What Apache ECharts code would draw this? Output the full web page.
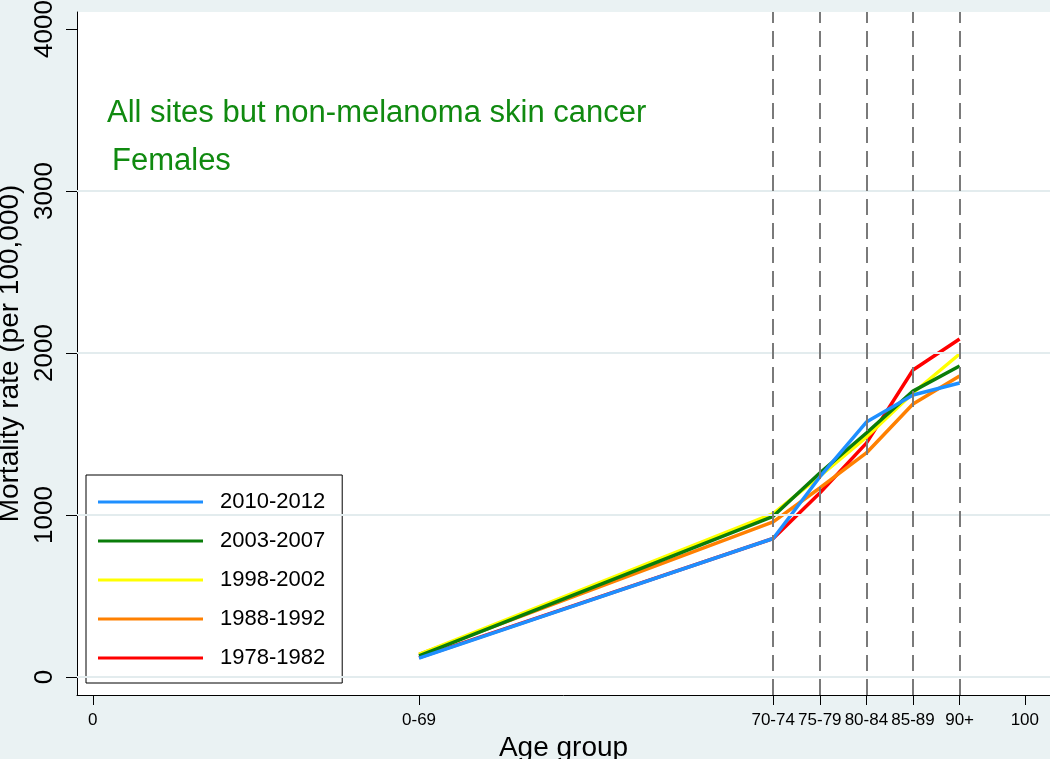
<!DOCTYPE html>
<html>
<head>
<meta charset="utf-8">
<script src="https://cdn.jsdelivr.net/npm/echarts@6/dist/echarts.min.js"></script>
<style>
html,body{margin:0;padding:0;background:#EAF2F3;}
#chart{width:1050px;height:759px;}
</style>
</head>
<body>
<div id="chart"></div>
<script>
// Age-group positions on the numeric x axis
const ageX = [35, 73, 78, 83, 88, 93];
const xTickValues = [0, 35, 73, 78, 83, 88, 93, 100];
const xTickLabels = ['0', '0-69', '70-74', '75-79', '80-84', '85-89', '90+', '100'];
const refLines = [73, 78, 83, 88, 93];
const yTickValues = [0, 1000, 2000, 3000, 4000];
const gridValues = [0, 1000, 2000, 3000];

const periods = ['2010-2012', '2003-2007', '1998-2002', '1988-1992', '1978-1982'];
const colors = ['#1E8FFF', '#0A7D0A', '#FFFF00', '#FF8000', '#FF0000'];

const v2010_2012 = [117, 855, 1235, 1574, 1741, 1815];
const v2003_2007 = [130, 992, 1259, 1506, 1765, 1920];
const v1998_2002 = [140, 1008, 1240, 1481, 1753, 1994];
const v1988_1992 = [140, 958, 1167, 1383, 1685, 1858];
const v1978_1982 = [120, 855, 1136, 1444, 1895, 2086];
const values = [v2010_2012, v2003_2007, v1998_2002, v1988_1992, v1978_1982];

const chart = echarts.init(document.getElementById('chart'));

const series = [];
// draw oldest first so 2010-2012 is on top
for (let i = periods.length - 1; i >= 0; i--) {
  series.push({
    name: periods[i],
    type: 'line',
    symbol: 'none',
    data: ageX.map((x, j) => [x, values[i][j]]),
    lineStyle: { color: colors[i], width: 3.5 },
    itemStyle: { color: colors[i] },
    z: 3,
    animation: false
  });
}
// grid lines and reference dashed lines
series.push({
  type: 'line',
  data: [],
  silent: true,
  z: 1,
  markLine: {
    silent: true,
    symbol: 'none',
    animation: false,
    label: { show: false },
    lineStyle: { color: '#E3ECEE', width: 2, type: 'solid' },
    data: gridValues.map(v => ({ yAxis: v }))
  }
});
series.push({
  type: 'line',
  data: [],
  silent: true,
  z: 2,
  markLine: {
    silent: true,
    symbol: 'none',
    animation: false,
    label: { show: false },
    lineStyle: { color: '#7A7A7A', width: 2, type: [16, 8] },
    data: refLines.map(v => ({ xAxis: v }))
  }
});

chart.setOption({
  backgroundColor: '#EAF2F3',
  animation: false,
  grid: {
    left: 77, top: 12, right: 0, bottom: 64,
    show: true, backgroundColor: '#ffffff', borderWidth: 0,
    containLabel: false, outerBoundsMode: 'none'
  },
  xAxis: {
    type: 'value',
    min: -1.7, max: 102.7,
    name: 'Age group',
    nameLocation: 'middle',
    nameGap: 34,
    nameTextStyle: { fontFamily: 'Liberation Sans', fontSize: 28, color: '#000' },
    axisLine: { show: true, onZero: false, lineStyle: { color: '#000', width: 1 } },
    axisTick: { show: true, length: 10, customValues: xTickValues, lineStyle: { color: '#000' } },
    axisLabel: {
      customValues: xTickValues,
      margin: 17,
      fontFamily: 'Liberation Sans',
      fontSize: 17,
      color: '#000',
      formatter: v => { const k = xTickValues.indexOf(v); return k >= 0 ? xTickLabels[k] : ''; }
    },
    splitLine: { show: false }
  },
  yAxis: {
    type: 'value',
    min: -111, max: 4105,
    name: 'Mortality rate (per 100,000)',
    nameLocation: 'middle',
    nameGap: 39,
    nameTextStyle: { fontFamily: 'Liberation Sans', fontSize: 28, color: '#000' },
    axisLine: { show: true, onZero: false, lineStyle: { color: '#000', width: 1 } },
    axisTick: { show: true, length: 11, customValues: yTickValues, lineStyle: { color: '#000' } },
    axisLabel: {
      customValues: yTickValues,
      rotate: 90,
      margin: 19,
      fontFamily: 'Liberation Sans',
      fontSize: 26,
      color: '#000',
      formatter: v => String(v)
    },
    splitLine: { show: false }
  },
  legend: {
    orient: 'vertical',
    left: 86, top: 475,
    data: periods,
    icon: 'rect',
    itemWidth: 105,
    itemHeight: 3,
    itemGap: 17,
    padding: [16, 17, 14, 12],
    borderColor: '#000',
    borderWidth: 1,
    backgroundColor: '#fff',
    textStyle: { fontFamily: 'Liberation Sans', fontSize: 22, lineHeight: 22, color: '#000', padding: [0, 0, 0, 12] }
  },
  graphic: [
    { type: 'text', left: 107, top: 98, style: { text: 'All sites but non-melanoma skin cancer', font: '31px "Liberation Sans"', fill: '#108A10' } },
    { type: 'text', left: 112, top: 146, style: { text: 'Females', font: '31px "Liberation Sans"', fill: '#108A10' } }
  ],
  series: series
});
</script>
</body>
</html>
